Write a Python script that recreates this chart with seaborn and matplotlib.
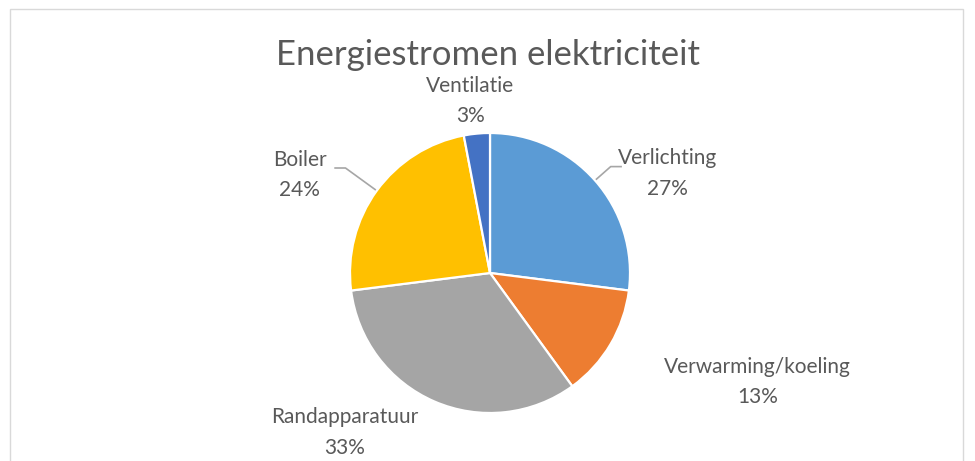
import matplotlib
matplotlib.use("Agg")
import matplotlib.pyplot as plt
import matplotlib.patches as patches
import seaborn as sns
import numpy as np

categories = ["Verlichting", "Verwarming/koeling", "Randapparatuur", "Boiler", "Ventilatie"]
shares = [27, 13, 33, 24, 3]
title = "Energiestromen elektriciteit"

colors = sns.color_palette(["#5B9BD5", "#ED7D31", "#A5A5A5", "#FFC000", "#4472C4"])
# label centre positions (in pie radii) and whether a leader line is drawn
label_pos = [(1.27, 0.71), (1.91, -0.78), (-1.04, -1.14), (-1.36, 0.70), (-0.14, 1.23)]
leader = [True, False, False, True, False]

sns.set_style("white")
plt.rcParams["font.family"] = ["Lato", "DejaVu Sans"]
text_color = "#595959"

fig = plt.figure(figsize=(9.75, 4.61), dpi=100)
ax = fig.add_axes([0, 0, 1, 1])

wedges, _ = ax.pie(shares, colors=colors, startangle=90, counterclock=False,
                   wedgeprops=dict(edgecolor="white", linewidth=1.6))

px = 140.0
ax.set_xlim(-490 / px, 485 / px)
ax.set_ylim(-188 / px, 273 / px)
ax.set_aspect("auto")
ax.axis("off")

for w, name, val, (tx, ty), lead in zip(wedges, categories, shares, label_pos, leader):
    ax.text(tx, ty, f"{name}\n{val}%", ha="center", va="center", fontsize=15,
            color=text_color, linespacing=1.65)
    if lead:
        ang = np.deg2rad((w.theta1 + w.theta2) / 2)
        x0, y0 = np.cos(ang), np.sin(ang)
        y1 = ty + 0.05
        x1 = y1 / np.tan(ang)
        x2 = x1 + np.sign(x0) * 0.08
        ax.plot([x0, x1, x2], [y0, y1, y1], color="#A6A6A6", lw=1.2,
                solid_capstyle="butt", zorder=0)

fig.text(0.5, 1 - 55 / 461, title, ha="center", va="center", fontsize=25,
         color=text_color)

frame = patches.Rectangle((9.5 / 975, -0.02), (963 - 9.5) / 975, (461 - 9.5) / 461 + 0.02,
                          transform=fig.transFigure, fill=False, edgecolor="#D9D9D9", lw=1.0)
fig.patches.append(frame)

fig.savefig("out.png", dpi=100, facecolor="white")
